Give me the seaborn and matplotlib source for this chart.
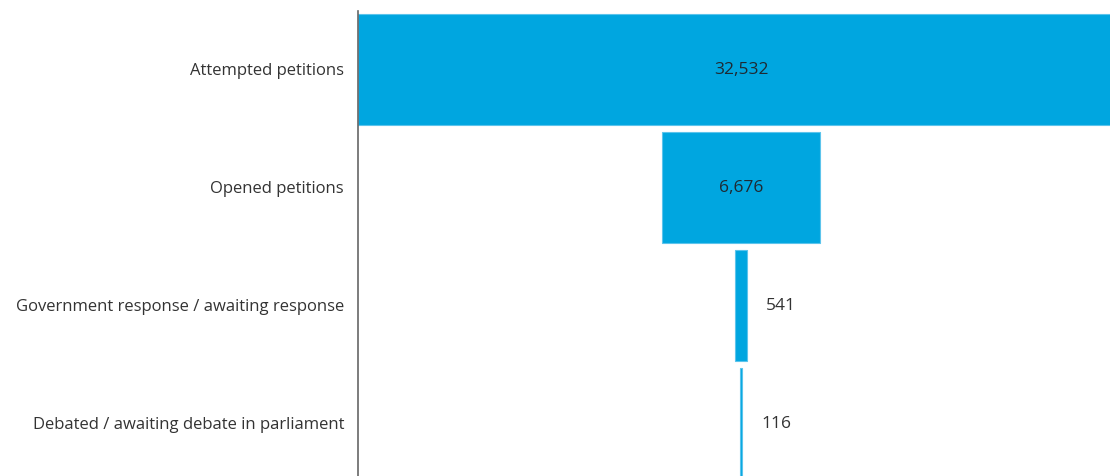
import matplotlib
matplotlib.use("Agg")
import matplotlib.pyplot as plt
import seaborn as sns
import pandas as pd

stages = [
    "Attempted petitions",
    "Opened petitions",
    "Government response / awaiting response",
    "Debated / awaiting debate in parliament",
]
counts = [32532, 6676, 541, 116]
count_labels = ["32,532", "6,676", "541", "116"]

df = pd.DataFrame({"stage": stages, "count": counts})

sns.set_theme(style="white")
plt.rcParams["font.family"] = ["Open Sans", "DejaVu Sans"]

fig = plt.figure(figsize=(11.10, 4.76), dpi=100)
ax = fig.add_axes([358 / 1110, 0.0, 1 - 358 / 1110, 1 - 10.5 / 476])

sns.barplot(
    data=df, x="count", y="stage", orient="y", ax=ax,
    color="#00A6E0", saturation=1, width=0.94,
    edgecolor="#5cc4ec", linewidth=0.8,
)

# centre each bar on zero to form a funnel
for p in ax.patches:
    p.set_x(-p.get_width() / 2)

top = counts[0]
ax.set_xlim(-top / 2, top / 2 * (1110 - 741) / (741 - 358))
ax.set_ylim(3.445, -0.5)

for i, (v, lab) in enumerate(zip(counts, count_labels)):
    if v > top * 0.1:
        ax.annotate(lab, xy=(0, i), xytext=(0, -1), textcoords="offset pixels",
                    ha="center", va="center", fontsize=12.5, color="#1e2a33")
    else:
        ax.annotate(lab, xy=(v / 2, i), xytext=(19, -1), textcoords="offset pixels",
                    ha="left", va="center", fontsize=12.5, color="#333333")

ax.set_xlabel("")
ax.set_ylabel("")
ax.set_xticks([])
ax.tick_params(axis="y", length=0, pad=10, labelsize=12, labelcolor="#333333")
for t in ax.get_yticklabels():
    t.set_y(t.get_position()[1])
for s in ["top", "right", "bottom"]:
    ax.spines[s].set_visible(False)
ax.spines["left"].set_color("#666666")
ax.spines["left"].set_linewidth(1.2)

fig.savefig("out.png", dpi=100)
